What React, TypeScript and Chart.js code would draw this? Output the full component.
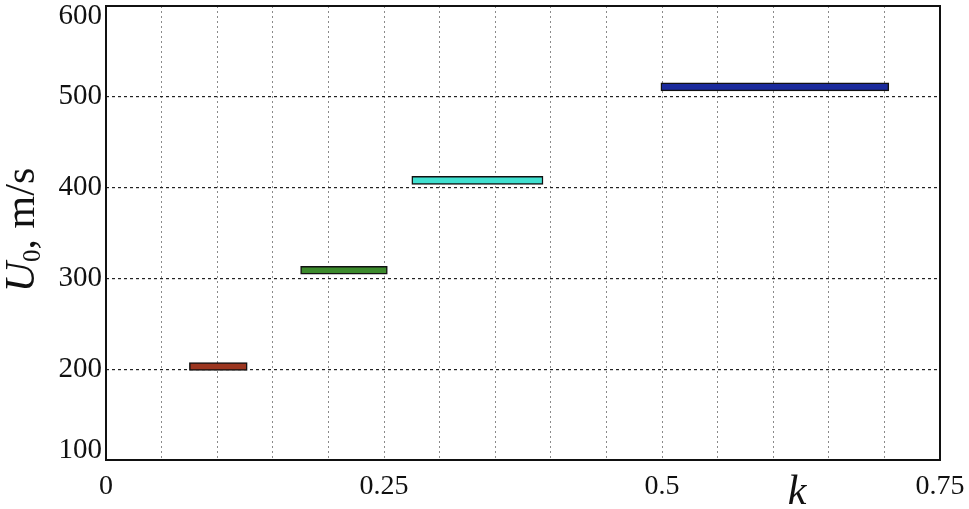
import React, { useEffect, useRef } from "react";
import { Chart, registerables } from "chart.js";

Chart.register(...registerables);

// Data
const levels = [203, 309, 408, 511]; // U0, m/s
const kStart = [0.075, 0.175, 0.275, 0.499];
const kEnd = [0.127, 0.253, 0.393, 0.704];
const barColors = ["#9c3620", "#3c8a2c", "#40e0d0", "#1a2a9c"];
const xTickLabels = [0, 0.25, 0.5, 0.75];
const yTickLabels = [100, 200, 300, 400, 500, 600];

const SERIF = "'Liberation Serif', 'DejaVu Serif', serif";

export default function App() {
  const ref = useRef<HTMLCanvasElement>(null);

  useEffect(() => {
    document.body.style.margin = "0";
    const canvas = ref.current!;
    const framePlugin = {
      id: "frameAndTitles",
      afterDraw(chart: any) {
        const { ctx, chartArea } = chart;
        ctx.save();
        ctx.strokeStyle = "#111";
        ctx.lineWidth = 2;
        ctx.setLineDash([]);
        ctx.strokeRect(
          chartArea.left,
          chartArea.top,
          chartArea.right - chartArea.left,
          chartArea.bottom - chartArea.top
        );
        // x-axis title "k"
        ctx.fillStyle = "#111";
        ctx.font = `italic 42px ${SERIF}`;
        ctx.textAlign = "center";
        ctx.textBaseline = "alphabetic";
        ctx.fillText("k", 797, 504);
        // y-axis title "U0, m/s"
        ctx.translate(19, 230);
        ctx.rotate(-Math.PI / 2);
        const fBig = `42px ${SERIF}`;
        const fIt = `italic 42px ${SERIF}`;
        const fSub = `25px ${SERIF}`;
        ctx.textAlign = "left";
        ctx.font = fIt;
        const wU = ctx.measureText("U").width;
        ctx.font = fSub;
        const w0 = ctx.measureText("0").width;
        ctx.font = fBig;
        const wRest = ctx.measureText(", m/s").width;
        const total = wU + w0 + wRest;
        let x = -total / 2;
        const base = 15;
        ctx.font = fIt;
        ctx.fillText("U", x, base);
        x += wU;
        ctx.font = fSub;
        ctx.fillText("0", x, base + 6);
        x += w0;
        ctx.font = fBig;
        ctx.fillText(", m/s", x, base);
        ctx.restore();
      },
    };

    const chart = new Chart(canvas, {
      type: "bar",
      data: {
        datasets: [
          {
            data: levels.map((y, i) => ({ y, x: [kStart[i], kEnd[i]] })) as any,
            backgroundColor: barColors,
            borderColor: "#111",
            borderWidth: 1.5,
            borderSkipped: false,
            barThickness: 8,
          },
        ],
      },
      options: {
        indexAxis: "y",
        animation: false,
        responsive: false,
        devicePixelRatio: 1,
        layout: { padding: { left: 0, right: 29, top: 6, bottom: 0 } },
        plugins: { legend: { display: false }, tooltip: { enabled: false } },
        scales: {
          x: {
            type: "linear",
            min: 0,
            max: 0.75,
            offset: false,
            border: { display: false, dash: [2, 3] },
            grid: {
              color: "#8a8a8a",
              lineWidth: 1,
              drawTicks: false,
              offset: false,
            },
            ticks: {
              stepSize: 0.05,
              autoSkip: false,
              maxRotation: 0,
              padding: 10,
              color: "#111",
              font: { family: SERIF, size: 28 },
              callback: (v: any) => {
                const val = Number(v);
                const hit = xTickLabels.find((t) => Math.abs(t - val) < 1e-6);
                return hit === undefined ? "" : String(hit);
              },
            },
            afterFit(s: any) {
              s.height = 49;
              s.paddingLeft = 0;
              s.paddingRight = 0;
            },
          },
          y: {
            type: "linear",
            min: 100,
            max: 600,
            offset: false,
            border: { display: false, dash: [3, 3] },
            grid: {
              color: "#222",
              lineWidth: 1.2,
              drawTicks: false,
              offset: false,
            },
            ticks: {
              stepSize: 100,
              padding: 4,
              color: "#111",
              font: { family: SERIF, size: 29, lineHeight: "20px" } as any,
              callback: (v: any) => {
                const val = Number(v);
                if (!yTickLabels.includes(val)) return "";
                if (val === yTickLabels[yTickLabels.length - 1]) return ["", String(val)];
                if (val === yTickLabels[0]) return [String(val), ""];
                return String(val);
              },
            },
            afterFit(s: any) {
              s.width = 106;
              s.paddingTop = 0;
              s.paddingBottom = 0;
            },
          },
        },
      },
      plugins: [framePlugin],
    } as any);

    return () => chart.destroy();
  }, []);

  return <canvas ref={ref} width={969} height={509} style={{ display: "block" }} />;
}
